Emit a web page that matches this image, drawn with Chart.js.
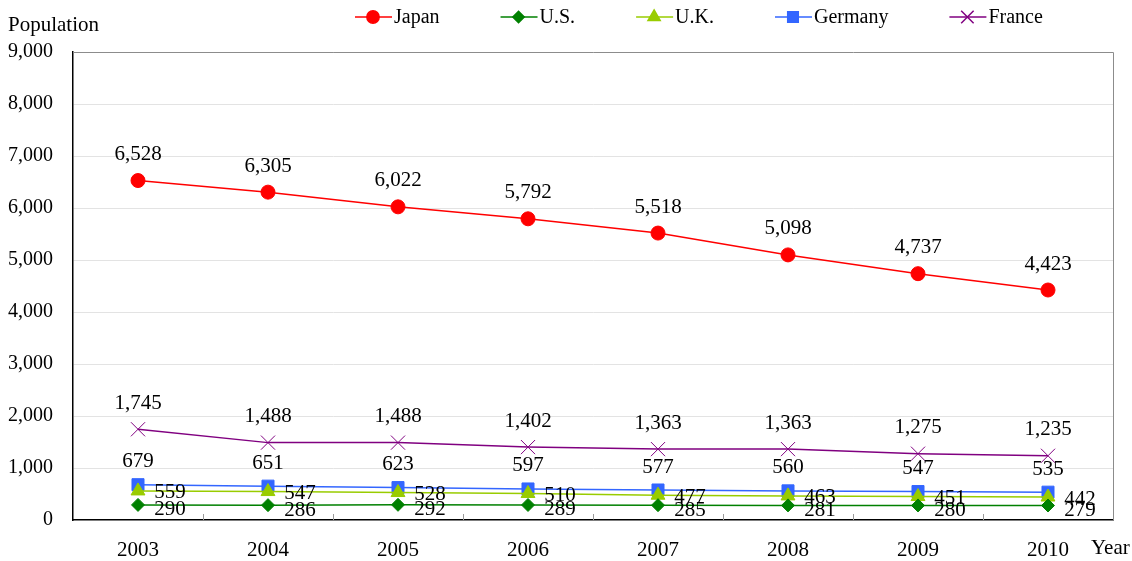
<!DOCTYPE html>
<html>
<head>
<meta charset="utf-8">
<script src="https://cdn.jsdelivr.net/npm/chart.js@4/dist/chart.umd.min.js"></script>
<style>
  html, body { margin: 0; padding: 0; background: #fff; }
  #wrap { width: 1132px; height: 561px; }
</style>
</head>
<body>
<div id="wrap"><canvas id="myChart" width="1132" height="561"></canvas></div>
<script>
'use strict'

// chart data
let years = ['2003', '2004', '2005', '2006', '2007', '2008', '2009', '2010'];
let japan = [6528, 6305, 6022, 5792, 5518, 5098, 4737, 4423];
let us = [290, 286, 292, 289, 285, 281, 280, 279];
let uk = [559, 547, 528, 510, 477, 463, 451, 442];
let germany = [679, 651, 623, 597, 577, 560, 547, 535];
let france = [1745, 1488, 1488, 1402, 1363, 1363, 1275, 1235];
let yTicks = [0, 1000, 2000, 3000, 4000, 5000, 6000, 7000, 8000, 9000];

const serif = '"Liberation Serif", "Times New Roman", serif';

function fmt(n) {
  return n.toLocaleString('en-US');
}

// where each series puts its value labels
let labelPlace = {
  'Japan': { dx: 0, dy: -26 },
  'U.S.': { dx: 32, dy: 5 },
  'U.K.': { dx: 32, dy: 2 },
  'Germany': { dx: 0, dy: -23 },
  'France': { dx: 0, dy: -26 }
};

const valueLabels = {
  id: 'valueLabels',
  afterDatasetsDraw(chart) {
    const ctx = chart.ctx;
    ctx.save();
    ctx.font = '21px ' + serif;
    ctx.fillStyle = '#000';
    ctx.textAlign = 'center';
    ctx.textBaseline = 'middle';
    chart.data.datasets.forEach((ds, i) => {
      let place = labelPlace[ds.label];
      chart.getDatasetMeta(i).data.forEach((pt, j) => {
        ctx.fillText(fmt(ds.data[j]), pt.x + place.dx, pt.y + place.dy);
      });
    });
    ctx.restore();
  }
};

// frame, inner ticks, axis titles and the legend
const extras = {
  id: 'extras',
  afterDraw(chart) {
    const ctx = chart.ctx;
    const a = chart.chartArea;
    const xs = chart.scales.x;
    ctx.save();

    // top and right border
    ctx.strokeStyle = '#8c8c8c';
    ctx.lineWidth = 1;
    ctx.beginPath();
    ctx.moveTo(a.left, a.top + 0.5);
    ctx.lineTo(a.right + 0.5, a.top + 0.5);
    ctx.lineTo(a.right + 0.5, a.bottom);
    ctx.stroke();

    // small ticks between the categories
    ctx.strokeStyle = '#9a9a9a';
    ctx.beginPath();
    for (let i = 1; i < years.length; i++) {
      let x = Math.round(xs.getPixelForValue(i - 0.5)) + 0.5;
      ctx.moveTo(x, a.bottom);
      ctx.lineTo(x, a.bottom - 6);
    }
    ctx.stroke();

    ctx.fillStyle = '#000';
    ctx.font = '21px ' + serif;
    ctx.textBaseline = 'middle';
    ctx.textAlign = 'left';
    ctx.fillText('Population', 8, 25);
    ctx.fillText('Year', 1091, 548);

    // legend
    ctx.font = '20px ' + serif;
    let x = 355;
    let y = 17;
    chart.data.datasets.forEach((ds) => {
      ctx.strokeStyle = ds.borderColor;
      ctx.fillStyle = ds.borderColor;
      ctx.lineWidth = 1.5;
      ctx.beginPath();
      ctx.moveTo(x, y);
      ctx.lineTo(x + 37, y);
      ctx.stroke();
      Chart.helpers.drawPoint(ctx, {
        pointStyle: ds.pointStyle,
        radius: ds.pointRadius * 0.88,
        borderWidth: 1
      }, x + 18, y);
      ctx.fillStyle = '#000';
      ctx.fillText(ds.label, x + 39, y + 1);
      x += 39 + ctx.measureText(ds.label).width + 61;
    });

    ctx.restore();
  }
};

function series(label, data, color, style, radius, width) {
  return {
    label: label,
    data: data,
    borderColor: color,
    backgroundColor: color,
    pointBackgroundColor: color,
    pointBorderColor: color,
    pointStyle: style,
    pointRadius: radius,
    pointHoverRadius: radius,
    pointBorderWidth: 1,
    borderWidth: width,
    tension: 0
  };
}

const ctx = document.getElementById('myChart');

new Chart(ctx, {
  type: 'line',
  data: {
    labels: years,
    datasets: [
      series('Japan', japan, '#ff0000', 'circle', 7, 1.5),
      series('U.S.', us, '#008000', 'rectRot', 6.5, 1.5),
      series('U.K.', uk, '#99cc00', 'triangle', 8, 1.5),
      series('Germany', germany, '#3366ff', 'rect', 8.5, 1.5),
      series('France', france, '#800080', 'crossRot', 10, 1.5)
    ]
  },
  options: {
    responsive: false,
    animation: false,
    devicePixelRatio: 1,
    layout: { padding: { top: 52, right: 19, left: 0, bottom: 0 } },
    plugins: {
      legend: { display: false },
      tooltip: { enabled: false },
      title: { display: false }
    },
    scales: {
      x: {
        type: 'category',
        offset: true,
        grid: { display: false, drawTicks: false },
        border: { display: true, color: '#000', width: 1.5 },
        ticks: {
          color: '#000',
          font: { family: serif, size: 21 },
          padding: 18,
          maxRotation: 0
        },
        afterFit(scale) { scale.height = 41; }
      },
      y: {
        min: 0,
        max: 9000,
        afterBuildTicks(scale) {
          scale.ticks = yTicks.map(v => ({ value: v }));
        },
        grid: {
          drawTicks: false,
          color: (c) => (c.tick && (c.tick.value === 0 || c.tick.value === 9000)) ? 'rgba(0,0,0,0)' : '#e3e3e3',
          lineWidth: 1
        },
        border: { display: true, color: '#000', width: 1.5 },
        ticks: {
          color: '#000',
          font: { family: serif, size: 20 },
          padding: 20,
          callback: (v) => fmt(v)
        },
        afterFit(scale) { scale.width = 73; }
      }
    }
  },
  plugins: [valueLabels, extras]
});
</script>
</body>
</html>
